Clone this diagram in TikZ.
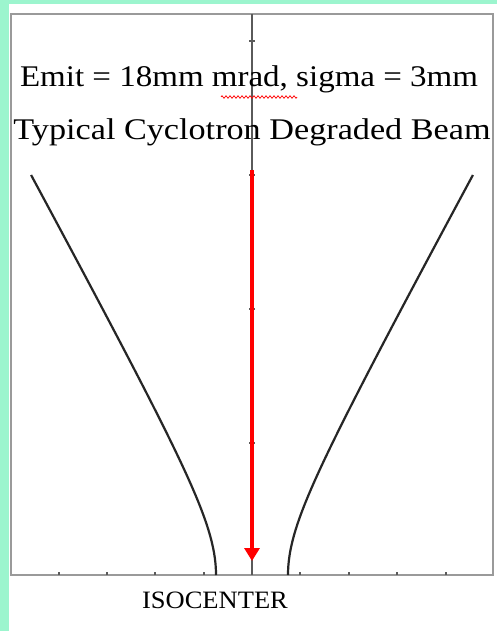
\documentclass[tikz,border=0pt]{standalone}
\usepackage{fontspec}
\setmainfont{Liberation Serif}
\usetikzlibrary{arrows.meta,decorations.pathmorphing}
\definecolor{mint}{HTML}{9CF5CE}
\definecolor{framegray}{HTML}{9A9A9A}
\definecolor{axisgray}{HTML}{5A5A5A}
\definecolor{beamred}{HTML}{FF0000}
\tikzset{
  frameline/.style={draw=framegray, line width=2pt},
  axisline/.style={draw=axisgray, line width=1.6pt},
  tickmark/.style={draw=axisgray, line width=1.6pt},
  envelope/.style={draw=black!85, line width=2.2pt},
  beam/.style={draw=beamred, line width=4pt, -{Triangle[length=13pt,width=15pt]}},
  title/.style={font=\fontsize{30}{30}\selectfont, anchor=base, inner sep=0pt},
  squiggle/.style={draw=red, line width=0.7pt, decorate, decoration={zigzag, amplitude=1.3pt, segment length=4pt}}
}
\begin{document}
\begin{tikzpicture}[x=1pt,y=-1pt]
\useasboundingbox (0,0) rectangle (501,631);
% background
\fill[mint] (0,0) rectangle (501,631);
\fill[white] (9,4) rectangle (501,631);
\fill[white] (497,0) rectangle (501,4);
% frame
\draw[frameline] (11,14) rectangle (493,575);
% axes
\coordinate (vtop) at (252,14);
\coordinate (vbot) at (252,575);
\draw[axisline] (vtop) -- (vbot);
\foreach \y in {41,175,309,443} \draw[tickmark] (249,\y) -- (255,\y);
\foreach \x in {59,107,155,204,300,349,397,446} \draw[tickmark] (\x,575) -- (\x,572);
% beam envelope (hyperbola)
\draw[envelope] plot[domain=0:400, samples=120, smooth] ({252-36*sqrt(1+(0.015144*\x)^2)},{575-\x});
\draw[envelope] plot[domain=0:400, samples=120, smooth] ({252+36*sqrt(1+(0.015144*\x)^2)},{575-\x});
% central beam
\coordinate (beamstart) at (252,170);
\coordinate (beamend) at (252,561);
\draw[beam] (beamstart) -- (beamend);
% texts
\node[title, xscale=1.1] (t1) at (249,87) {Emit = 18mm mrad, sigma = 3mm};
\draw[squiggle] (221,97) -- (297,97);
\node[title, xscale=1.14] (t2) at (252,140) {Typical Cyclotron Degraded Beam};
\node[font=\fontsize{25}{25}\selectfont, anchor=base, inner sep=0pt, xscale=1.06] (iso) at (215,608) {ISOCENTER};
\end{tikzpicture}
\end{document}
